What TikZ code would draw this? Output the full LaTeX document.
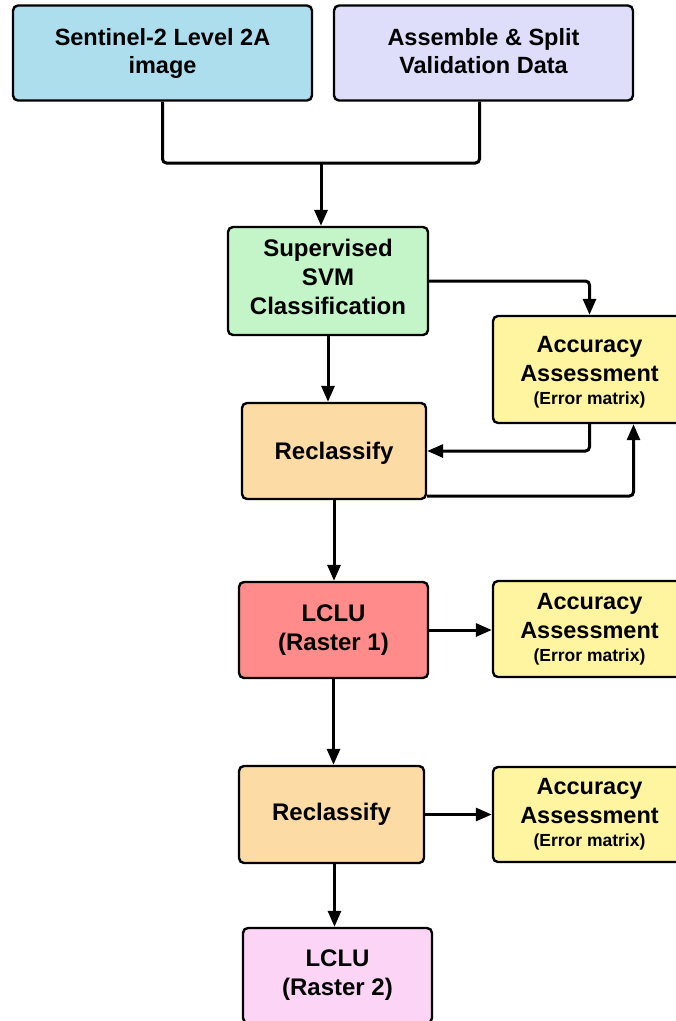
\documentclass[tikz,border=0pt]{standalone}
\usepackage{fontspec}
\setmainfont{Liberation Sans}
\usetikzlibrary{arrows.meta,calc}
\definecolor{cSen}{RGB}{173,222,238}
\definecolor{cAsm}{RGB}{222,222,250}
\definecolor{cSup}{RGB}{195,245,200}
\definecolor{cAcc}{RGB}{255,245,160}
\definecolor{cRec}{RGB}{253,219,164}
\definecolor{cLa}{RGB}{255,140,138}
\definecolor{cLb}{RGB}{252,212,245}
\begin{document}
\begin{tikzpicture}[x=1pt,y=-1pt,
  box/.style={draw=black, line width=2.4pt, rounded corners=5pt, align=center,
    font=\fontsize{24}{29}\selectfont\bfseries, inner sep=0pt},
  topbox/.style={box, font=\fontsize{23.5}{28}\selectfont\bfseries},
  accbox/.style={box, fill=cAcc, minimum width=193pt, font=\fontsize{23.5}{29}\selectfont\bfseries},
  conn/.style={line width=3pt, rounded corners=4pt},
  arr/.style={conn, -{Triangle[length=16pt,width=13pt]}}]
\useasboundingbox (0,0) rectangle (676,1021);
\clip (0,0) rectangle (676,1021);

\node[topbox, fill=cSen, minimum width=299pt, minimum height=95pt] (sen) at (162.5,53) {Sentinel-2 Level 2A\\image};
\node[topbox, fill=cAsm, minimum width=299pt, minimum height=95pt] (asm) at (483.5,53) {Assemble \& Split\\Validation Data\vphantom{g}};
\node[box, fill=cSup, minimum width=200pt, minimum height=108pt] (sup) at (328,281) {Supervised\\SVM\\Classification\rule[-8pt]{0pt}{8pt}};
\node[accbox, minimum height=107pt] (acc1) at (589.5,369.5) {\rule{0pt}{21pt}Accuracy\\Assessment\\[-6pt]{\fontsize{17.5}{20}\selectfont(Error matrix)}};
\node[box, fill=cRec, minimum width=184pt, minimum height=96pt] (rec1) at (334,451) {\rule{0pt}{21pt}Reclassify};
\node[box, fill=cLa, minimum width=189pt, minimum height=96pt] (lc1) at (333.5,630) {LCLU\\(Raster 1)};
\node[accbox, minimum height=96pt] (acc2) at (589.5,629) {Accuracy\\Assessment\\[-6pt]{\fontsize{17.5}{20}\selectfont(Error matrix)}};
\node[box, fill=cRec, minimum width=185pt, minimum height=97pt] (rec2) at (331.5,814.5) {Reclassify};
\node[accbox, minimum height=95pt] (acc3) at (589.5,814.5) {Accuracy\\Assessment\\[-6pt]{\fontsize{17.5}{20}\selectfont(Error matrix)}};
\node[box, fill=cLb, minimum width=189pt, minimum height=95pt] (lc2) at (337.5,975.5) {LCLU\\(Raster 2)};

\coordinate (j) at (321,163);
\draw[conn] (sen.south) |- (j) -| ([xshift=-4pt]asm.south);
\draw[arr] (j) -- (j |- sup.north);
\draw[arr] (sup.east) -| (acc1.north);
\draw[arr] (sup.south) -- (sup.south |- rec1.north);
\draw[arr] (acc1.south) |- (rec1.east);
\draw[arr] ([yshift=-45pt]rec1.east) -| ([xshift=44pt]acc1.south);
\draw[arr] (rec1.south) -- (rec1.south |- lc1.north);
\draw[arr] (lc1.east) -- (lc1.east -| acc2.west);
\draw[arr] (lc1.south) -- (lc1.south |- rec2.north);
\draw[arr] (rec2.east) -- (rec2.east -| acc3.west);
\draw[arr] ([xshift=3pt]rec2.south) -- ([xshift=3pt]rec2.south |- lc2.north);
\end{tikzpicture}
\end{document}
